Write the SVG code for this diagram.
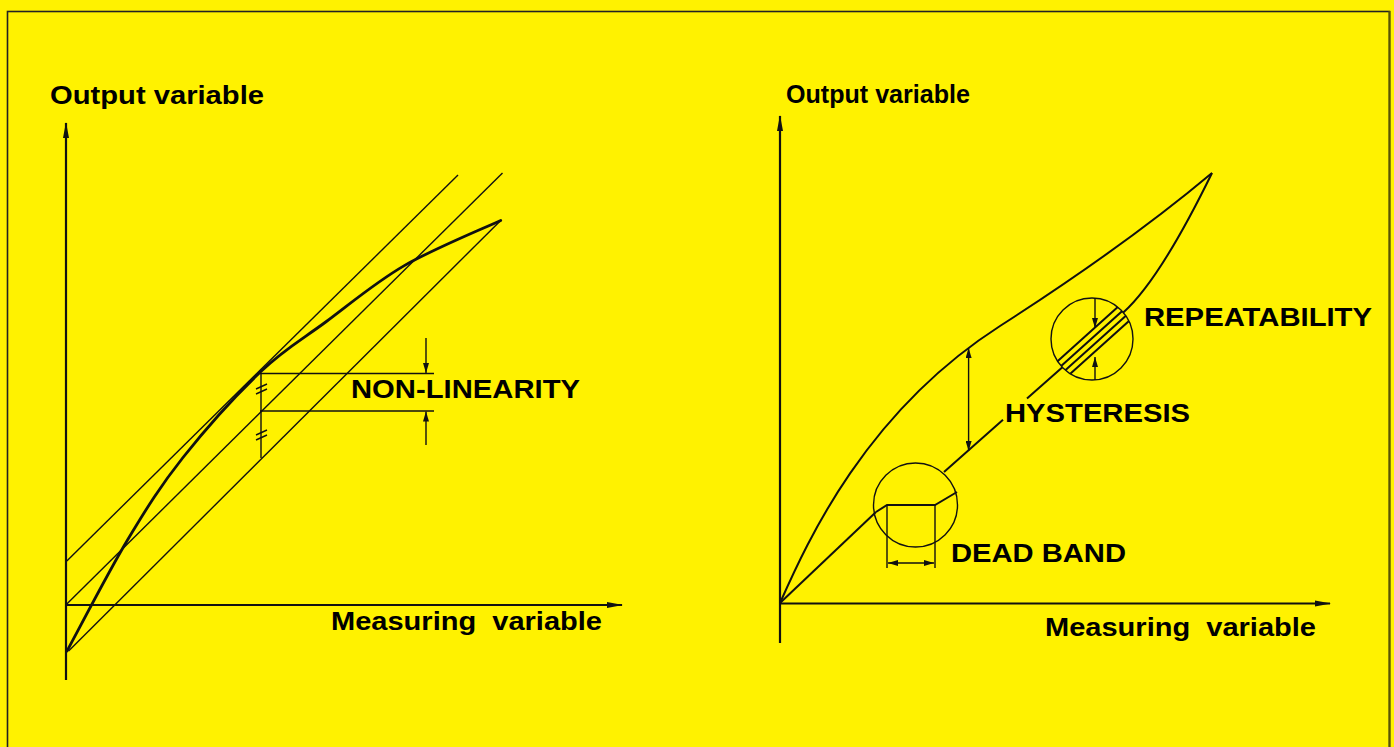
<svg xmlns="http://www.w3.org/2000/svg" width="1394" height="747" viewBox="0 0 1394 747">
<defs>
<style>
.ax{stroke:#111;stroke-width:2.2;fill:none}
.thin{stroke:#111;stroke-width:1.4;fill:none}
.med{stroke:#111;stroke-width:2;fill:none}
.thick{stroke:#111;stroke-width:2.8;fill:none;stroke-linecap:round}
.lbl{font-family:"Liberation Sans",Arial,sans-serif;font-weight:bold;fill:#000}
</style>
<marker id="axh" viewBox="0 0 16 7" refX="15" refY="3.5" markerWidth="16" markerHeight="7" markerUnits="userSpaceOnUse" orient="auto"><path d="M0,0.5 L16,3.5 L0,6.5 z" fill="#111"/></marker>
<marker id="ah" viewBox="0 0 10 6" refX="10" refY="3" markerWidth="10" markerHeight="6" markerUnits="userSpaceOnUse" orient="auto-start-reverse"><path d="M0,0 L10,3 L0,6 z" fill="#111"/></marker>
<clipPath id="repclip"><circle cx="1092" cy="339" r="41"/></clipPath>
</defs>
<rect x="0" y="0" width="1394" height="747" fill="#FFF200"/>
<rect x="7.5" y="11.5" width="1382" height="760" fill="none" stroke="#222" stroke-width="1.6"/>
<line x1="1389.5" y1="11" x2="1389.5" y2="747" stroke="#5a5400" stroke-width="2"/>

<g id="left-chart">
  <g id="left-axes">
    <line class="ax" x1="66" y1="680" x2="66" y2="123" marker-end="url(#axh)"/>
    <line class="ax" x1="66" y1="605" x2="622" y2="605" marker-end="url(#axh)"/>
  </g>
  <g id="left-lines">
    <line class="thin" x1="66.8" y1="561" x2="458" y2="175"/>
    <line class="thin" x1="66.8" y1="604" x2="502.5" y2="173"/>
    <line class="thin" x1="68.6" y1="651" x2="500.7" y2="220.4"/>
    <path class="thick" d="M67,651 C77.1,632.5 108.2,572.3 127.5,540 C146.8,507.8 160.7,485.7 183,457.5 C205.3,429.3 237.6,393.6 261.4,371 C285.2,348.4 301.9,339.6 325.7,322 C349.5,304.4 375.1,282.5 404.3,265.6 C433.5,248.7 484.6,227.9 500.7,220.4"/>
  </g>
  <g id="non-linearity">
    <line class="thin" x1="260" y1="373.5" x2="434" y2="373.5"/>
    <line class="thin" x1="260" y1="411" x2="434" y2="411"/>
    <line class="thin" x1="261" y1="373" x2="261" y2="458"/>
    <path class="thin" d="M256,389 L267,384 M256,394 L267,389 M256,435 L267,430 M256,440 L267,435"/>
    <line class="thin" x1="426" y1="338" x2="426" y2="373" marker-end="url(#ah)"/>
    <line class="thin" x1="426" y1="445" x2="426" y2="411.5" marker-end="url(#ah)"/>
    <text class="lbl" x="351" y="398" font-size="26" textLength="229" lengthAdjust="spacingAndGlyphs">NON-LINEARITY</text>
  </g>
  <text class="lbl" x="50" y="104" font-size="26" textLength="214" lengthAdjust="spacingAndGlyphs">Output variable</text>
  <text class="lbl" x="331" y="630" font-size="26" textLength="271" lengthAdjust="spacingAndGlyphs" xml:space="preserve">Measuring  variable</text>
</g>

<g id="right-chart">
  <g id="right-axes">
    <line class="ax" x1="780" y1="643" x2="780" y2="116" marker-end="url(#axh)"/>
    <line class="ax" x1="780" y1="603.5" x2="1330" y2="603.5" marker-end="url(#axh)"/>
  </g>
  <g id="right-curves">
    <path class="med" d="M780,603 C808,540 866,412 1000,326 C1080,274.7 1150,225 1212,173"/>
    <path class="med" d="M780,603 L876,512"/>
    <path class="med" d="M944,472 L1003,419.8 M1027,398.6 L1062.4,367.3"/>
    <path class="med" d="M1123.3,312.5 Q1160,279.5 1212,173"/>
  </g>
  <g id="dead-band">
    <circle class="thin" cx="915.5" cy="505" r="42"/>
    <path class="med" d="M876,512 L887,505 H935 L957,492"/>
    <line class="thin" x1="887" y1="505" x2="887" y2="568"/>
    <line class="thin" x1="935" y1="505" x2="935" y2="568"/>
    <line class="thin" x1="888" y1="563" x2="934" y2="563" marker-start="url(#ah)" marker-end="url(#ah)"/>
    <text class="lbl" x="951" y="562" font-size="26" textLength="175" lengthAdjust="spacingAndGlyphs">DEAD BAND</text>
  </g>
  <g id="hysteresis">
    <line class="thin" x1="968.6" y1="348" x2="968.6" y2="451" marker-start="url(#ah)" marker-end="url(#ah)"/>
    <text class="lbl" x="1005" y="421.5" font-size="26" textLength="185" lengthAdjust="spacingAndGlyphs">HYSTERESIS</text>
  </g>
  <g id="repeatability">
    <circle class="thin" cx="1092" cy="339" r="41"/>
    <g clip-path="url(#repclip)">
      <path class="med" d="M1035,381.5 L1150,278 M1035,389.5 L1150,286 M1035,397.5 L1150,294 M1035,405.5 L1150,302"/>
    </g>
    <line class="thin" x1="1095" y1="298" x2="1095" y2="328" marker-end="url(#ah)"/>
    <line class="thin" x1="1095" y1="380" x2="1095" y2="357" marker-end="url(#ah)"/>
    <text class="lbl" x="1144" y="326" font-size="26" textLength="228" lengthAdjust="spacingAndGlyphs">REPEATABILITY</text>
  </g>
  <text class="lbl" x="786" y="103" font-size="26" textLength="184" lengthAdjust="spacingAndGlyphs">Output variable</text>
  <text class="lbl" x="1045" y="636" font-size="26" textLength="271" lengthAdjust="spacingAndGlyphs" xml:space="preserve">Measuring  variable</text>
</g>
</svg>
